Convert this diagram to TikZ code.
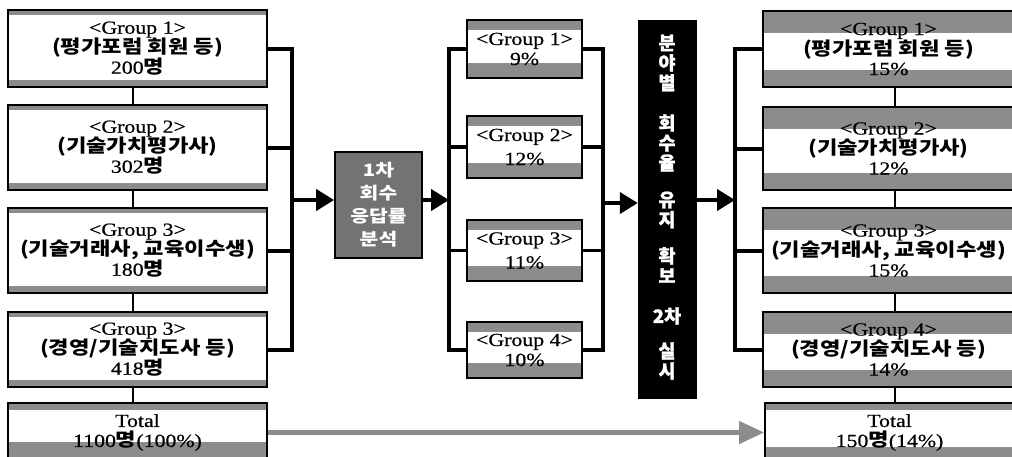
\documentclass[tikz,border=0pt]{standalone}
\usepackage{fontspec}
\usetikzlibrary{arrows.meta}
\newfontfamily\lat[FakeStretch=1.18,FakeBold=0.6]{Liberation Serif}
\newfontfamily\kor[FakeStretch=1.2]{Noto Sans CJK KR}
\newfontfamily\korheavy[FakeBold=1.2]{Noto Sans CJK KR}
\newcommand\K[1]{{\kor\bfseries #1}}
\newcommand\Lt[1]{{\lat #1}}
\definecolor{dither}{gray}{0.55}
\definecolor{boxgray}{gray}{0.45}

\tikzset{
  strips/.style 2 args={path picture={
      \fill[dither] (path picture bounding box.north west) rectangle ([yshift=-#1]path picture bounding box.north east);
      \fill[dither] (path picture bounding box.south west) rectangle ([yshift=#2]path picture bounding box.south east);}},
  gbox/.style={draw=black, line width=1.8pt, fill=white, inner sep=0pt, align=center,
      font=\fontsize{18.5}{20}\selectfont\lat},
  lbox/.style={gbox, minimum width=259pt, strips={5pt}{7pt}},
  mbox/.style={gbox, minimum width=115pt, strips={10pt}{15pt}},
  rbox/.style={gbox, minimum width=251pt, strips={22pt}{17pt}},
  vtext/.style={text=white, align=center, inner sep=0pt,
      font=\fontsize{18.5}{20}\selectfont\korheavy\bfseries},
  bus/.style={line width=4pt},
  link/.style={line width=2.5pt},
  arr/.style={line width=4pt, -{Triangle[length=18pt,width=21pt]}},
  garr/.style={draw=dither, line width=4.5pt, -{Triangle[length=25pt,width=22pt]}},
}

\begin{document}
\begin{tikzpicture}[x=1pt, y=-1pt]
\useasboundingbox (0,0) rectangle (1012,456);
\fill[white] (0,0) rectangle (1012,456);

% survey population, left column
\node[lbox, minimum height=77pt] (L1) at (137.5,48.5)
  {\Lt{<Group 1>}\\\K{(평가포럼 회원 등)}\\\Lt{200}\K{명}};
\node[lbox, minimum height=85pt] (L2) at (137.5,147.5)
  {\Lt{<Group 2>}\\\K{(기술가치평가사)}\\\Lt{302}\K{명}};
\node[lbox, minimum height=85pt] (L3) at (137.5,250.5)
  {\Lt{<Group 3>}\\\K{(기술거래사, 교육이수생)}\\\Lt{180}\K{명}};
\node[lbox, minimum height=75pt] (L4) at (137.5,349.5)
  {\Lt{<Group 3>}\\\K{(경영/기술지도사 등)}\\\Lt{418}\K{명}};
\node[gbox, minimum width=259pt, minimum height=59pt, strips={7pt}{20pt}] (LT) at (137.5,432.5)
  {\Lt{Total}\\\Lt{1100}\K{명}\Lt{(100\%)}};

% first-round analysis
\node[draw=black, line width=1.8pt, fill=boxgray, minimum width=87pt, minimum height=106pt,
      text=white, align=center, inner sep=0pt,
      font=\fontsize{17}{23}\selectfont\kor\bfseries] (G) at (378.5,205)
  {1차\\회수\\응답률\\분석};

% first-round response rates
\node[mbox, minimum height=58pt] (M1) at (524.5,49) {\Lt{<Group 1>}\\\Lt{9\%}};
\node[mbox, minimum height=62pt] (M2) at (524.5,147) {\Lt{<Group 2>}\\[4pt]\Lt{12\%}};
\node[mbox, minimum height=61pt] (M3) at (524.5,250.5) {\Lt{<Group 3>}\\[4pt]\Lt{11\%}};
\node[mbox, minimum height=56pt] (M4) at (524.5,350) {\Lt{<Group 4>}\\\Lt{10\%}};

% second-round bar with vertical caption
\node[draw=black, fill=black, minimum width=58pt, minimum height=378pt, inner sep=0pt] (B) at (667,209) {};
\node[vtext] (v1) at (667,63) {분\\야\\별};
\node[vtext] (v2) at (667,143) {회\\수\\율};
\node[vtext] (v3) at (667,210) {유\\지};
\node[vtext] (v4) at (667,265) {확\\보};
\node[vtext] (v5) at (667,316) {2차};
\node[vtext] (v6) at (667,361) {실\\시};

% second-round results, right column
\node[rbox, minimum height=76pt] (R1) at (888.5,49)
  {\Lt{<Group 1>}\\\K{(평가포럼 회원 등)}\\\Lt{15\%}};
\node[rbox, minimum height=83pt] (R2) at (888.5,148.5)
  {\Lt{<Group 2>}\\\K{(기술가치평가사)}\\\Lt{12\%}};
\node[rbox, minimum height=85pt] (R3) at (888.5,250.5)
  {\Lt{<Group 3>}\\\K{(기술거래사, 교육이수생)}\\\Lt{15\%}};
\node[rbox, minimum height=75pt] (R4) at (888.5,349.5)
  {\Lt{<Group 4>}\\\K{(경영/기술지도사 등)}\\\Lt{14\%}};
\node[gbox, minimum width=249pt, minimum height=59pt, strips={7pt}{15pt}] (RT) at (889.5,432.5)
  {\Lt{Total}\\\Lt{150}\K{명}\Lt{(14\%)}};

% bus junctions
\coordinate (lbus) at (292,200);
\coordinate (mbusL) at (449,200);
\coordinate (mbusR) at (603,203);
\coordinate (rbus) at (735,200);

% thin links inside the columns
\foreach \a/\b in {L1/L2,L2/L3,L3/L4,L4/LT}
  \draw[link] ([xshift=-4.5pt]\a.south) -- ([xshift=-4.5pt]\b.north);
\foreach \a/\b in {R1/R2,R2/R3,R3/R4}
  \draw[link] ([xshift=6.5pt]\a.south) -- ([xshift=6.5pt]\b.north);
\draw[link] ([xshift=6.5pt]R4.south) -- ([xshift=5.5pt]RT.north);

% left bus
\draw[bus] (L1.east) -- (L1.east -| lbus) -- (L4.east -| lbus) -- (L4.east);
\draw[bus] (L2.east) -- (L2.east -| lbus);
\draw[bus] (L3.east) -- (L3.east -| lbus);
\draw[arr] (lbus) -- (lbus -| G.west);

% middle buses
\draw[arr] (G.east |- mbusL) -- (mbusL);
\draw[bus, line width=3.5pt] (M1.west) -- (M1.west -| mbusL) -- (M4.west -| mbusL) -- (M4.west);
\draw[bus, line width=3.5pt] (M2.west) -- (M2.west -| mbusL);
\draw[bus, line width=3.5pt] (M3.west) -- (M3.west -| mbusL);
\draw[bus, line width=3.5pt] (M1.east) -- (M1.east -| mbusR) -- (M4.east -| mbusR) -- (M4.east);
\draw[bus, line width=3.5pt] (M2.east) -- (M2.east -| mbusR);
\draw[bus, line width=3.5pt] (M3.east) -- (M3.east -| mbusR);
\draw[arr] (mbusR) -- (mbusR -| B.west);

% right bus
\draw[arr] (B.east |- rbus) -- (rbus);
\draw[bus] (R1.west) -- (R1.west -| rbus) -- (R4.west -| rbus) -- (R4.west);
\draw[bus] (R2.west) -- (R2.west -| rbus);
\draw[bus] (R3.west) -- (R3.west -| rbus);

% totals
\draw[garr] (LT.east) -- (RT.west);
\end{tikzpicture}
\end{document}
